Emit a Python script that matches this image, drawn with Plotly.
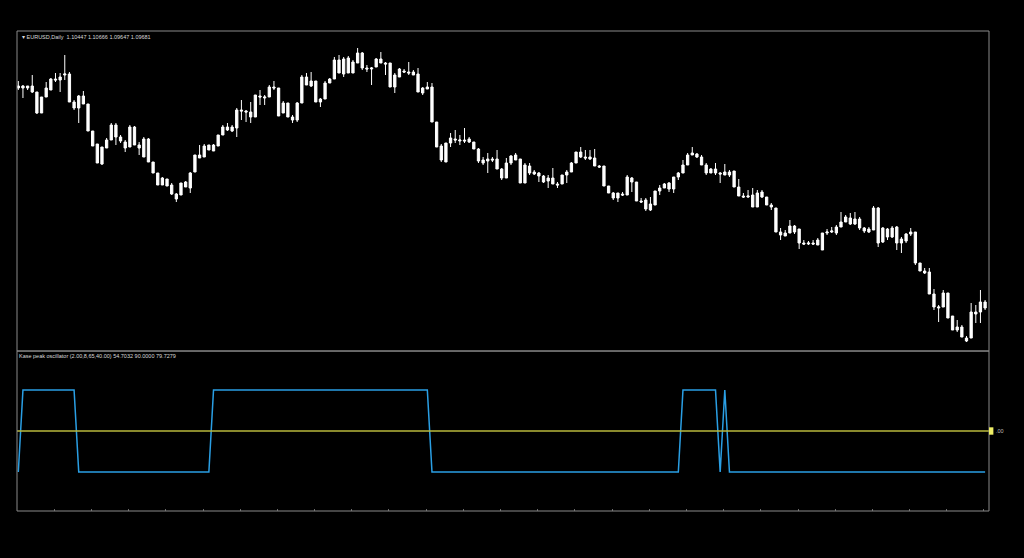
import plotly.graph_objects as go

# ---- price data (EURUSD daily) ----
open_ = [1.1414,1.1412,1.1414,1.1414,1.1408,1.1387,1.1403,1.1410,1.1421,1.1420,
         1.1425,1.1426,1.1398,1.1392,1.1404,1.1396,1.1369,1.1356,1.1336,1.1352,
         1.1360,1.1375,1.1363,1.1358,1.1353,1.1373,1.1355,1.1343,1.1361,1.1338,
         1.1327,1.1315,1.1321,1.1315,1.1306,1.1305,1.1318,1.1312,1.1328,1.1342,
         1.1343,1.1355,1.1349,1.1354,1.1365,1.1373,1.1369,1.1372,1.1390,1.1389,
         1.1383,1.1383,1.1404,1.1402,1.1403,1.1413,1.1412,1.1387,1.1397,1.1383,
         1.1380,1.1397,1.1423,1.1414,1.1419,1.1398,1.1401,1.1417,1.1421,1.1440,
         1.1426,1.1442,1.1427,1.1437,1.1447,1.1432,1.1431,1.1433,1.1441,1.1437,
         1.1437,1.1413,1.1423,1.1429,1.1428,1.1428,1.1426,1.1407,1.1411,1.1413,
         1.1378,1.1354,1.1338,1.1357,1.1361,1.1359,1.1360,1.1361,1.1358,1.1351,
         1.1337,1.1339,1.1341,1.1341,1.1331,1.1322,1.1337,1.1340,1.1341,1.1317,
         1.1334,1.1328,1.1327,1.1324,1.1319,1.1322,1.1316,1.1316,1.1325,1.1328,
         1.1337,1.1348,1.1343,1.1343,1.1342,1.1334,1.1334,1.1314,1.1307,1.1302,
         1.1306,1.1305,1.1322,1.1318,1.1299,1.1300,1.1290,1.1295,1.1309,1.1312,
         1.1317,1.1311,1.1323,1.1327,1.1335,1.1345,1.1346,1.1343,1.1335,1.1327,
         1.1331,1.1327,1.1325,1.1328,1.1329,1.1313,1.1304,1.1303,1.1305,1.1293,
         1.1308,1.1303,1.1295,1.1292,1.1268,1.1264,1.1267,1.1274,1.1271,1.1257,
         1.1256,1.1257,1.1260,1.1250,1.1267,1.1268,1.1267,1.1273,1.1278,1.1282,
         1.1281,1.1281,1.1272,1.1268,1.1270,1.1292,1.1258,1.1271,1.1263,1.1273,
         1.1261,1.1259,1.1266,1.1268,1.1237,1.1229,1.1228,1.1206,1.1192,1.1193,
         1.1207,1.1184,1.1173,1.1173,1.1162,1.1162,1.1188,1.1188,1.1198]

high = [1.1419,1.1415,1.1414,1.1425,1.1408,1.1403,1.1418,1.1422,1.1427,1.1427,
        1.1445,1.1428,1.1400,1.1405,1.1409,1.1396,1.1369,1.1356,1.1353,1.1362,
        1.1377,1.1377,1.1365,1.1360,1.1375,1.1374,1.1358,1.1363,1.1362,1.1338,
        1.1327,1.1323,1.1321,1.1317,1.1307,1.1317,1.1319,1.1328,1.1345,1.1355,
        1.1356,1.1355,1.1356,1.1365,1.1375,1.1377,1.1375,1.1392,1.1400,1.1390,
        1.1398,1.1405,1.1410,1.1405,1.1415,1.1419,1.1412,1.1399,1.1397,1.1385,
        1.1398,1.1425,1.1427,1.1428,1.1419,1.1402,1.1419,1.1422,1.1443,1.1445,
        1.1443,1.1444,1.1440,1.1452,1.1448,1.1435,1.1433,1.1442,1.1448,1.1438,
        1.1437,1.1427,1.1432,1.1431,1.1438,1.1430,1.1432,1.1413,1.1418,1.1417,
        1.1378,1.1356,1.1357,1.1367,1.1370,1.1365,1.1372,1.1363,1.1358,1.1352,
        1.1343,1.1347,1.1343,1.1350,1.1332,1.1342,1.1345,1.1347,1.1341,1.1337,
        1.1337,1.1330,1.1328,1.1325,1.1325,1.1332,1.1318,1.1325,1.1330,1.1338,
        1.1348,1.1353,1.1350,1.1350,1.1351,1.1335,1.1334,1.1314,1.1308,1.1307,
        1.1308,1.1325,1.1323,1.1318,1.1302,1.1302,1.1303,1.1309,1.1315,1.1317,
        1.1318,1.1323,1.1328,1.1340,1.1347,1.1353,1.1347,1.1345,1.1337,1.1332,
        1.1337,1.1328,1.1336,1.1330,1.1329,1.1321,1.1307,1.1310,1.1312,1.1310,
        1.1310,1.1303,1.1297,1.1292,1.1272,1.1270,1.1280,1.1275,1.1271,1.1260,
        1.1259,1.1260,1.1262,1.1267,1.1271,1.1273,1.1275,1.1288,1.1285,1.1287,
        1.1288,1.1283,1.1273,1.1273,1.1294,1.1293,1.1273,1.1272,1.1274,1.1274,
        1.1263,1.1267,1.1272,1.1268,1.1237,1.1232,1.1232,1.1211,1.1195,1.1210,
        1.1207,1.1184,1.1180,1.1175,1.1164,1.1197,1.1195,1.1210,1.1200]

low = [1.1410,1.1402,1.1410,1.1407,1.1386,1.1387,1.1403,1.1410,1.1418,1.1408,
       1.1420,1.1398,1.1390,1.1377,1.1396,1.1369,1.1354,1.1337,1.1335,1.1352,
       1.1360,1.1355,1.1357,1.1348,1.1353,1.1355,1.1345,1.1343,1.1338,1.1327,
       1.1315,1.1315,1.1314,1.1305,1.1298,1.1305,1.1313,1.1307,1.1328,1.1342,
       1.1343,1.1350,1.1349,1.1354,1.1365,1.1369,1.1368,1.1363,1.1380,1.1378,
       1.1377,1.1383,1.1395,1.1395,1.1403,1.1410,1.1384,1.1387,1.1383,1.1377,
       1.1378,1.1397,1.1415,1.1413,1.1398,1.1393,1.1401,1.1417,1.1421,1.1427,
       1.1423,1.1427,1.1427,1.1437,1.1430,1.1428,1.1415,1.1433,1.1437,1.1425,
       1.1413,1.1407,1.1423,1.1427,1.1425,1.1425,1.1408,1.1405,1.1411,1.1378,
       1.1353,1.1338,1.1338,1.1353,1.1357,1.1355,1.1357,1.1357,1.1351,1.1337,
       1.1335,1.1327,1.1338,1.1331,1.1320,1.1322,1.1335,1.1340,1.1317,1.1317,
       1.1325,1.1325,1.1318,1.1317,1.1312,1.1316,1.1312,1.1316,1.1317,1.1328,
       1.1337,1.1342,1.1340,1.1340,1.1334,1.1332,1.1314,1.1307,1.1300,1.1298,
       1.1304,1.1305,1.1308,1.1299,1.1297,1.1289,1.1289,1.1295,1.1305,1.1312,
       1.1308,1.1307,1.1320,1.1327,1.1335,1.1345,1.1342,1.1335,1.1325,1.1327,
       1.1325,1.1317,1.1325,1.1323,1.1313,1.1304,1.1302,1.1302,1.1293,1.1293,
       1.1302,1.1295,1.1290,1.1268,1.1260,1.1264,1.1267,1.1266,1.1251,1.1255,
       1.1255,1.1255,1.1255,1.1250,1.1265,1.1267,1.1265,1.1273,1.1278,1.1275,
       1.1275,1.1270,1.1267,1.1267,1.1270,1.1253,1.1257,1.1260,1.1262,1.1250,
       1.1247,1.1257,1.1264,1.1235,1.1229,1.1226,1.1206,1.1190,1.1178,1.1193,
       1.1182,1.1170,1.1168,1.1163,1.1158,1.1162,1.1177,1.1177,1.1190]

close = [1.1412,1.1414,1.1412,1.1408,1.1387,1.1403,1.1412,1.1421,1.1420,1.1423,
         1.1426,1.1398,1.1392,1.1404,1.1396,1.1369,1.1354,1.1337,1.1353,1.1360,
         1.1375,1.1363,1.1359,1.1352,1.1373,1.1355,1.1352,1.1361,1.1338,1.1327,
         1.1315,1.1322,1.1314,1.1306,1.1301,1.1317,1.1313,1.1327,1.1345,1.1345,
         1.1354,1.1350,1.1355,1.1365,1.1373,1.1370,1.1373,1.1390,1.1389,1.1388,
         1.1388,1.1405,1.1403,1.1403,1.1413,1.1412,1.1384,1.1397,1.1383,1.1380,
         1.1397,1.1423,1.1415,1.1419,1.1398,1.1401,1.1417,1.1421,1.1440,1.1427,
         1.1441,1.1427,1.1438,1.1447,1.1432,1.1431,1.1432,1.1441,1.1437,1.1436,
         1.1413,1.1425,1.1431,1.1428,1.1427,1.1425,1.1408,1.1412,1.1413,1.1378,
         1.1353,1.1340,1.1357,1.1362,1.1360,1.1360,1.1359,1.1358,1.1351,1.1339,
         1.1340,1.1341,1.1340,1.1331,1.1322,1.1337,1.1344,1.1345,1.1317,1.1335,
         1.1327,1.1326,1.1324,1.1318,1.1322,1.1316,1.1315,1.1325,1.1328,1.1337,
         1.1348,1.1343,1.1342,1.1341,1.1334,1.1333,1.1314,1.1307,1.1302,1.1307,
         1.1305,1.1323,1.1318,1.1299,1.1298,1.1291,1.1296,1.1309,1.1312,1.1316,
         1.1311,1.1323,1.1327,1.1335,1.1345,1.1347,1.1343,1.1335,1.1327,1.1331,
         1.1327,1.1326,1.1328,1.1325,1.1313,1.1304,1.1303,1.1304,1.1293,1.1307,
         1.1303,1.1295,1.1293,1.1268,1.1265,1.1267,1.1274,1.1268,1.1257,1.1256,
         1.1257,1.1256,1.1255,1.1267,1.1268,1.1269,1.1273,1.1278,1.1283,1.1276,
         1.1276,1.1272,1.1269,1.1271,1.1292,1.1257,1.1272,1.1263,1.1272,1.1257,
         1.1257,1.1266,1.1268,1.1237,1.1229,1.1227,1.1206,1.1193,1.1193,1.1207,
         1.1182,1.1170,1.1170,1.1163,1.1159,1.1188,1.1186,1.1198,1.1192]

# ---- Kase peak oscillator (step signal) ----
kpo = [-1, 1, 1, 1, 1, 1, 1, 1, 1, 1,
       1, 1, 1, -1, -1, -1, -1, -1, -1, -1,
       -1, -1, -1, -1, -1, -1, -1, -1, -1, -1,
       -1, -1, -1, -1, -1, -1, -1, -1, -1, -1,
       -1, -1, 1, 1, 1, 1, 1, 1, 1, 1,
       1, 1, 1, 1, 1, 1, 1, 1, 1, 1,
       1, 1, 1, 1, 1, 1, 1, 1, 1, 1,
       1, 1, 1, 1, 1, 1, 1, 1, 1, 1,
       1, 1, 1, 1, 1, 1, 1, 1, 1, -1,
       -1, -1, -1, -1, -1, -1, -1, -1, -1, -1,
       -1, -1, -1, -1, -1, -1, -1, -1, -1, -1,
       -1, -1, -1, -1, -1, -1, -1, -1, -1, -1,
       -1, -1, -1, -1, -1, -1, -1, -1, -1, -1,
       -1, -1, -1, -1, -1, -1, -1, -1, -1, -1,
       -1, -1, -1, 1, 1, 1, 1, 1, 1, 1,
       1, -1, 1, -1, -1, -1, -1, -1, -1, -1,
       -1, -1, -1, -1, -1, -1, -1, -1, -1, -1,
       -1, -1, -1, -1, -1, -1, -1, -1, -1, -1,
       -1, -1, -1, -1, -1, -1, -1, -1, -1, -1,
       -1, -1, -1, -1, -1, -1, -1, -1, -1, -1,
       -1, -1, -1, -1, -1, -1, -1, -1, -1]
kpo_level = 0

header_main = "▾ EURUSD,Daily  1.10447 1.10666 1.09647 1.09681"
header_ind = "Kase peak oscillator (2.00,8,65,40.00) 54.7032 90.0000 79.7279"
level_label = ".00"

bars = list(range(len(open_)))

FRAME = "#8a8a8a"
TXT = "#d8d8d8"
# page body adds an 8px margin, so the figure is sized/margined to compensate
W, H = 1016, 550
L, R, T, B = 9, 35, 23, 47
SPLIT = 0.3333

fig = go.Figure()
fig.add_trace(go.Candlestick(
    x=bars, open=open_, high=high, low=low, close=close,
    increasing=dict(line=dict(color="white", width=1), fillcolor="white"),
    decreasing=dict(line=dict(color="white", width=1), fillcolor="white"),
    whiskerwidth=0, xaxis="x", yaxis="y", showlegend=False, hoverinfo="skip"))

fig.add_trace(go.Scatter(
    x=bars, y=kpo, mode="lines", line=dict(color="#2a9fe4", width=1.5),
    xaxis="x", yaxis="y2", showlegend=False, hoverinfo="skip"))

fig.add_trace(go.Scatter(
    x=[bars[0] - 0.5, bars[-1] + 2], y=[kpo_level, kpo_level], mode="lines",
    line=dict(color="#b9b93c", width=1.5), xaxis="x", yaxis="y2",
    showlegend=False, hoverinfo="skip"))

xr = [-0.28, 208.84]
fig.update_layout(
    width=W, height=H,
    margin=dict(l=L, r=R, t=T, b=B),
    paper_bgcolor="black", plot_bgcolor="black",
    xaxis=dict(range=xr, anchor="y2", showgrid=False, zeroline=False,
               showticklabels=False, rangeslider=dict(visible=False),
               ticks="inside", ticklen=2, tickcolor="#6a6a6a",
               tickvals=[7.75 + 8 * k for k in range(26)]),
    yaxis=dict(domain=[SPLIT, 1], range=[1.1149, 1.1469], showgrid=False,
               zeroline=False, showticklabels=False),
    yaxis2=dict(domain=[0, SPLIT], range=[-1.95, 1.95], showgrid=False,
                zeroline=False, showticklabels=False),
    shapes=[
        dict(type="rect", xref="paper", yref="paper", x0=0, x1=1, y0=SPLIT, y1=1,
             line=dict(color=FRAME, width=1)),
        dict(type="rect", xref="paper", yref="paper", x0=0, x1=1, y0=0, y1=SPLIT,
             line=dict(color=FRAME, width=1)),
        dict(type="rect", xref="paper", yref="y2", x0=1.0, x1=1.0045,
             y0=kpo_level - 0.09, y1=kpo_level + 0.09,
             fillcolor="#eeee66", line=dict(width=0)),
    ],
    annotations=[
        dict(text=header_main, xref="paper", yref="paper", x=0.003, y=0.9885,
             xanchor="left", yanchor="middle", showarrow=False,
             font=dict(family="Liberation Sans", size=5.5, color=TXT)),
        dict(text=header_ind, xref="paper", yref="paper", x=0.0005, y=SPLIT - 0.0105,
             xanchor="left", yanchor="middle", showarrow=False,
             font=dict(family="Liberation Sans", size=5.5, color=TXT)),
        dict(text=level_label, xref="paper", yref="y2", x=1.005, y=kpo_level,
             xanchor="left", yanchor="middle", showarrow=False,
             font=dict(family="Liberation Sans", size=5.5, color="#bbbbbb")),
    ],
)

fig.write_html("out.html", config={"displayModeBar": False},
               post_script="document.body.style.background='black';"
                           "document.documentElement.style.background='black';")
